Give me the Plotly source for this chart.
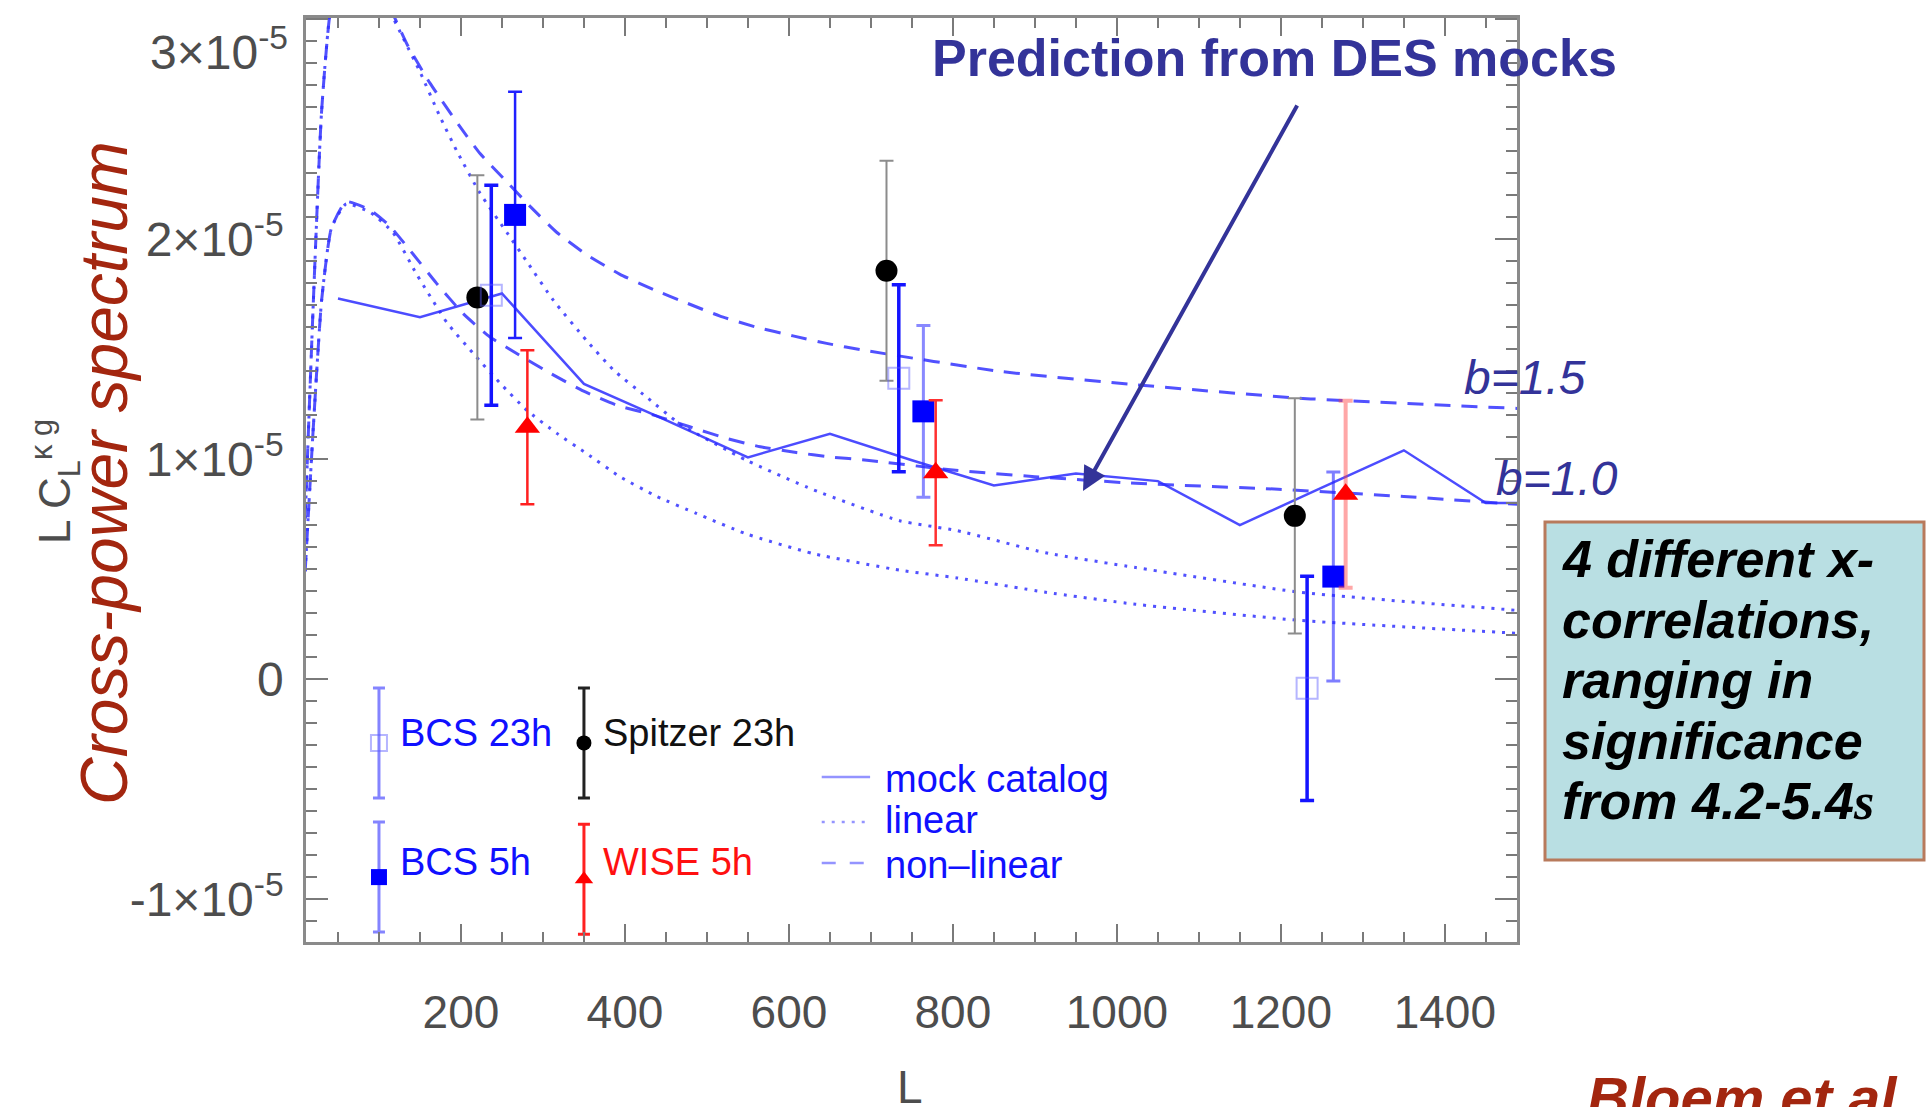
import plotly.graph_objects as go

# Values of L * C_L^{kappa g} are given in units of 1e-5.

# Measured cross-power points (L, value, 1-sigma error)
bcs23_L = [237, 734, 1232]
bcs23_y = [1.745, 1.368, -0.042]
bcs23_err = [0.50, 0.425, 0.51]

bcs5_L = [266, 764, 1264]
bcs5_y = [2.11, 1.217, 0.466]
bcs5_err = [0.56, 0.39, 0.475]

spitzer_L = [220, 719, 1217]
spitzer_y = [1.735, 1.856, 0.742]
spitzer_err = [0.555, 0.50, 0.535]

wise_L = [281, 779, 1279]
wise_y = [1.145, 0.938, 0.84]
wise_err = [0.35, 0.33, 0.425]

# Mock catalog (binned)
mock_L = [50, 150, 250, 350, 450, 550, 650, 750, 850, 950, 1050, 1150, 1250, 1350, 1450, 1550]
mock_y = [1.73, 1.645, 1.753, 1.342, 1.177, 1.008, 1.115, 0.995, 0.88, 0.935, 0.90, 0.70, 0.87, 1.04, 0.80, 0.80]

# Theory: linear spectra for b=1.0 and b=1.5
lin10_L = [10, 20, 30, 42, 60, 90, 117, 146, 183, 215, 248, 280, 317, 353, 394, 439, 487, 548, 630, 735,
           805, 913, 1023, 1223, 1490]
lin10_y = [0.49, 1.15, 1.72, 2.05, 2.16, 2.12, 2.03, 1.84, 1.62, 1.48, 1.344, 1.223, 1.117, 1.026, 0.92,
           0.83, 0.753, 0.66, 0.57, 0.495, 0.46, 0.395, 0.34, 0.267, 0.208]
lin15_L = [10, 20, 30, 42, 60, 106, 130, 150, 174, 195, 223, 256, 280, 313, 353, 386, 426, 467, 548, 630,
           735, 805, 913, 1023, 1223, 1490]
lin15_y = [0.73, 1.72, 2.58, 3.07, 3.24, 3.08, 2.91, 2.76, 2.56, 2.40, 2.21, 2.03, 1.90, 1.72, 1.54, 1.405,
           1.283, 1.16, 0.995, 0.86, 0.72, 0.675, 0.574, 0.507, 0.395, 0.312]

# Theory: non-linear spectra for b=1.0 and b=1.5
nl10_L = [10, 20, 30, 42, 60, 90, 113, 142, 170, 203, 235, 268, 309, 349, 390, 435, 479, 524, 565, 609,
          650, 695, 800, 900, 1023, 1197, 1350, 1490]
nl10_y = [0.49, 1.15, 1.72, 2.05, 2.17, 2.13, 2.06, 1.93, 1.80, 1.66, 1.556, 1.48, 1.39, 1.31, 1.245, 1.20,
          1.147, 1.094, 1.056, 1.03, 1.01, 0.995, 0.95, 0.92, 0.89, 0.863, 0.83, 0.794]
nl15_L = [10, 20, 30, 42, 60, 106, 135, 162, 199, 223, 256, 284, 317, 353, 394, 435, 475, 516, 560, 605,
          646, 691, 859, 1023, 1223, 1490]
nl15_y = [0.73, 1.72, 2.58, 3.07, 3.25, 3.10, 2.88, 2.71, 2.51, 2.39, 2.26, 2.15, 2.03, 1.93, 1.84, 1.77,
          1.71, 1.65, 1.60, 1.56, 1.526, 1.495, 1.398, 1.338, 1.277, 1.23]

y_tickvals = [-1, 0, 1, 2, 3]
y_ticktext = ["-1×10<sup>-5</sup>", "0", "1×10<sup>-5</sup>", "2×10<sup>-5</sup>", ""]
x_tickvals = [200, 400, 600, 800, 1000, 1200, 1400]

# ---------------------------------------------------------------------------
W, H = 1926, 1107
PL, PR, PT, PB = 306, 1517, 18, 942


def px(x):
    return (x - PL) / (PR - PL)


def py(y):
    return (PB - y) / (PB - PT)


FONT = "Liberation Sans, Arial, Helvetica, sans-serif"
NAVY = "#333399"
DARKRED = "#a3260f"

fig = go.Figure()

# theory curves
curve_style = [
    (lin10_L, lin10_y, "3px,7px", 3),
    (lin15_L, lin15_y, "3px,7px", 3),
    (nl10_L, nl10_y, "16px,11px", 3),
    (nl15_L, nl15_y, "16px,11px", 3),
]
for xs, ys, dash, w in curve_style:
    fig.add_trace(go.Scatter(
        x=xs, y=ys, mode="lines",
        line=dict(color="rgba(50,50,255,0.85)", width=w, dash=dash, shape="spline", smoothing=0.5),
        showlegend=False, hoverinfo="skip"))

# mock catalog
fig.add_trace(go.Scatter(
    x=mock_L, y=mock_y, mode="lines",
    line=dict(color="rgba(45,45,255,0.85)", width=2.5),
    showlegend=False, hoverinfo="skip"))


def add_points(xs, ys, errs, marker, bar_colors, bar_widths, cap=7):
    for x, y, e, c, w in zip(xs, ys, errs, bar_colors, bar_widths):
        fig.add_trace(go.Scatter(
            x=[x], y=[y], mode="markers", marker=marker,
            error_y=dict(type="data", array=[e], color=c, thickness=w, width=cap),
            showlegend=False, hoverinfo="skip"))


add_points(spitzer_L, spitzer_y, spitzer_err,
           dict(symbol="circle", size=22, color="black"),
           ["#8c8c8c"] * 3, [2] * 3)
add_points(bcs23_L, bcs23_y, bcs23_err,
           dict(symbol="square-open", size=21, color="rgba(90,90,255,0.45)", line=dict(width=2)),
           ["#1414ff"] * 3, [3.5] * 3)
add_points(bcs5_L, bcs5_y, bcs5_err,
           dict(symbol="square", size=22, color="#0000ff"),
           ["#2020ff", "rgba(40,40,255,0.55)", "rgba(40,40,255,0.6)"], [2.5, 3, 3])
add_points(wise_L, wise_y, wise_err,
           dict(symbol="triangle-up", size=22, color="#ff0000"),
           ["#ff2020", "#ff3030", "rgba(255,60,60,0.45)"], [2.5, 2.5, 4])

# in-plot legend: symbols with error bars
leg_pts = [
    (100, -0.29, dict(symbol="square-open", size=16, color="rgba(90,90,255,0.45)", line=dict(width=2)), "rgba(50,50,255,0.6)"),
    (350, -0.29, dict(symbol="circle", size=15, color="black"), "#222222"),
    (100, -0.90, dict(symbol="square", size=16, color="#0000ff"), "rgba(50,50,255,0.6)"),
    (350, -0.91, dict(symbol="triangle-up", size=16, color="#ff0000"), "#ff2020"),
]
for x, y, mk, c in leg_pts:
    fig.add_trace(go.Scatter(
        x=[x], y=[y], mode="markers", marker=mk,
        error_y=dict(type="data", array=[0.25], color=c, thickness=3, width=6),
        showlegend=False, hoverinfo="skip"))

leg_lines = [(-0.445, "solid"), (-0.65, "3px,7px"), (-0.836, "14px,14px")]
for y, dash in leg_lines:
    fig.add_trace(go.Scatter(
        x=[640, 699], y=[y, y], mode="lines",
        line=dict(color="rgba(60,60,255,0.55)", width=2.5, dash=dash),
        showlegend=False, hoverinfo="skip"))

ann = []


def text(x, y, s, size, color, xanchor="center", yanchor="middle", angle=0, family=FONT, data=False):
    xr, yr = ("x", "y") if data else ("paper", "paper")
    ann.append(dict(x=x, y=y, xref=xr, yref=yr, text=s, showarrow=False,
                    xanchor=xanchor, yanchor=yanchor, textangle=angle,
                    font=dict(family=family, size=size, color=color)))


# legend labels (data coordinates)
text(123, -0.245, "BCS 23h", 38, "#1010ff", xanchor="left", data=True)
text(371, -0.245, "Spitzer 23h", 38, "#111111", xanchor="left", data=True)
text(123, -0.83, "BCS 5h", 38, "#1010ff", xanchor="left", data=True)
text(371, -0.83, "WISE 5h", 38, "#ff1010", xanchor="left", data=True)
text(715, -0.455, "mock catalog", 38, "#1010ff", xanchor="left", data=True)
text(715, -0.64, "linear", 38, "#1010ff", xanchor="left", data=True)
text(715, -0.845, "non\u2013linear", 38, "#1010ff", xanchor="left", data=True)

# top y tick label
text(px(290), py(49), "3×10<sup>-5</sup>", 48, "#4d4d4d", xanchor="right")

# axis titles
text(px(910), py(1087), "L", 46, "#4d4d4d")
text(px(55), py(482), "L C<sub>L</sub><sup>κ g</sup>", 44, "#4d4d4d", angle=-90)
text(px(104), py(473), "<i>Cross-power spectrum</i>", 66, DARKRED, angle=-90)

# annotations
text(px(1274), py(58), "<b>Prediction from DES mocks</b>", 52, NAVY)
text(px(1525), py(377), "<i>b=1.5</i>", 48, NAVY)
text(px(1557), py(479), "<i>b=1.0</i>", 48, NAVY)
text(px(1585), py(1063), "<b><i>Bloem et al.</i></b>", 58, DARKRED, xanchor="left", yanchor="top")

box_lines = [
    "<b><i>4 different x-</i></b>",
    "<b><i>correlations,</i></b>",
    "<b><i>ranging in</i></b>",
    "<b><i>significance</i></b>",
    "<b><i>from 4.2-5.4<span style='font-family:Liberation Serif'>s</span></i></b>",
]
for i, s in enumerate(box_lines):
    text(px(1560), py(559 + i * 60.5), s, 52, "black", xanchor="left")

ann.append(dict(
    x=px(1083), y=py(491), xref="paper", yref="paper",
    ax=1298 - 1083, ay=104 - 491, axref="pixel", ayref="pixel",
    showarrow=True, arrowhead=2, arrowsize=1.2, arrowwidth=4, arrowcolor=NAVY, text=""))

shapes = [dict(type="rect", xref="paper", yref="paper",
               x0=px(1545), x1=px(1924), y0=py(860), y1=py(522),
               fillcolor="#b9dfe3", line=dict(color="#b87a5c", width=3), layer="below")]

axis_common = dict(
    showgrid=False, zeroline=False, showline=True, linecolor="#8a8a8a", linewidth=2.5,
    mirror="ticks", ticks="inside", tickcolor="#7a7a7a", tickwidth=2)

fig.update_layout(
    width=W, height=H,
    margin=dict(l=PL, r=W - PR, t=PT, b=H - PB),
    paper_bgcolor="white", plot_bgcolor="white",
    showlegend=False,
    xaxis=dict(range=[11, 1488], tickmode="array", tickvals=x_tickvals, ticklen=18,
               ticklabelstandoff=28,
               tickfont=dict(family=FONT, size=46, color="#4d4d4d"),
               minor=dict(tickmode="linear", tick0=0, dtick=50, ticklen=10, ticks="inside",
                          tickcolor="#7a7a7a", tickwidth=1.5),
               **axis_common),
    yaxis=dict(range=[-1.195, 3.005], tickmode="array", tickvals=y_tickvals, ticktext=y_ticktext,
               ticklen=22, ticklabelstandoff=10,
               tickfont=dict(family=FONT, size=48, color="#4d4d4d"),
               minor=dict(tickmode="linear", tick0=0, dtick=0.1, ticklen=11, ticks="inside",
                          tickcolor="#7a7a7a", tickwidth=1.5),
               **axis_common),
    annotations=ann,
    shapes=shapes,
)

fig.write_html("out.html")
